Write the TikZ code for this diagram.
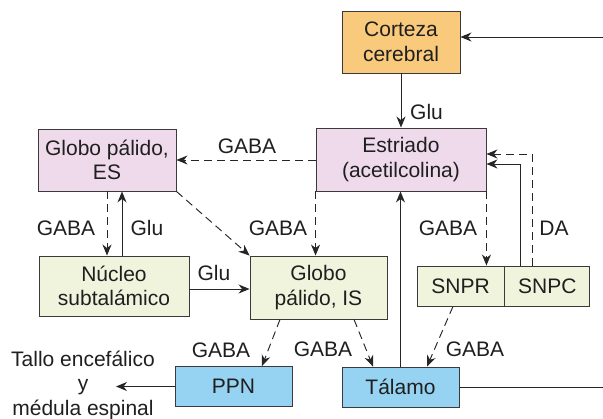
\documentclass[tikz,border=0pt]{standalone}
\usepackage{fontspec}
\setmainfont{Liberation Sans}
\usetikzlibrary{arrows.meta}
\definecolor{cortezacol}{HTML}{F9C97C}
\definecolor{pinkcol}{HTML}{EFDAEB}
\definecolor{greencol}{HTML}{F0F4DD}
\definecolor{bluecol}{HTML}{96D3F2}
\definecolor{edgecol}{HTML}{3A3A3A}
\begin{document}
\begin{tikzpicture}[x=1pt,y=-1pt,
  every node/.style={font=\fontsize{21}{24.5}\selectfont, text=black!88},
  box/.style={draw=edgecol, line width=0.9pt, inner sep=0pt, align=center},
  lbl/.style={inner sep=0pt},
  arr/.style={line width=0.95pt, draw=black!85, -{Stealth[length=11pt,width=9pt,inset=3.5pt]}},
  dsh/.style={arr, dash pattern=on 8pt off 5pt},
  plain/.style={line width=0.95pt, draw=black!85}]
\useasboundingbox (0,0) rectangle (603,419);
% boxes
\node[box, fill=cortezacol, minimum width=118pt, minimum height=62pt] (corteza) at (401,42) {Corteza\\cerebral};
\node[box, fill=pinkcol, minimum width=170pt, minimum height=63pt] (estriado) at (401,159.5) {Estriado\\(acetilcolina)};
\node[box, fill=pinkcol, minimum width=138pt, minimum height=62pt] (gpe) at (107,160) {Globo pálido,\\ES};
\node[box, fill=greencol, minimum width=150pt, minimum height=60pt] (stn) at (114,286) {Núcleo\\subtalámico};
\node[box, fill=greencol, minimum width=137pt, minimum height=63pt] (gpi) at (318.5,287.5) {Globo\\pálido, IS};
\node[box, fill=greencol, minimum width=87pt, minimum height=40pt] (snpr) at (460.5,286) {SNPR};
\node[box, fill=greencol, minimum width=85pt, minimum height=40pt, anchor=west] (snpc) at (snpr.east) {SNPC};
\node[box, fill=bluecol, minimum width=117pt, minimum height=40pt] (talamo) at (400.5,387) {Tálamo};
\node[box, fill=bluecol, minimum width=117pt, minimum height=40pt] (ppn) at (233.5,386.5) {PPN};
\node[lbl, align=center] (tallo) at (83,385) {Tallo encefálico\\y\\médula espinal};
% free ends
\coordinate (rtop) at (603,37);
\coordinate (rbot) at (603,387);
\coordinate (tallotip) at (116,386.5);
% connectors
\draw[arr] (corteza.south) -- (estriado.north);
\node[lbl, anchor=west] (l1) at (410,112) {Glu};
\draw[arr] (rtop) -- (rtop -| corteza.east);
\draw[plain] (talamo.east) -- (rbot);
\draw[dsh] (estriado.west |- 0,160) -- (gpe.east |- 0,160);
\node[lbl] (l2) at (247,146) {GABA};
\draw[dsh] (gpe.south -| 107,0) -- (stn.north -| 107,0);
\draw[arr] (stn.north -| 122,0) -- (gpe.south -| 122,0);
\node[lbl] (l3) at (66,228) {GABA};
\node[lbl] (l4) at (147,228) {Glu};
\draw[dsh] (gpe.south east) -- (gpi.north west);
\draw[arr] (stn.east |- 0,289) -- (gpi.west |- 0,289);
\node[lbl] (l5) at (214,273) {Glu};
\draw[dsh] (estriado.south west) -- (estriado.south west |- gpi.north);
\node[lbl] (l6) at (278,228) {GABA};
\draw[dsh] (estriado.south east) -- (estriado.south east |- snpr.north);
\node[lbl] (l7) at (448,228) {GABA};
\draw[arr] (snpc.north -| 520,0) -- (520,164) -- (estriado.east |- 0,164);
\draw[dsh] (snpc.north -| 532,0) -- (532,154) -- (estriado.east |- 0,154);
\node[lbl] (l8) at (554,228) {DA};
\draw[arr] (talamo.north) -- (talamo.north |- estriado.south);
\draw[dsh] (snpr.south -| 453,0) -- (talamo.north -| 427,0);
\node[lbl] (l9) at (475,349) {GABA};
\draw[dsh] (gpi.south -| 354,0) -- (talamo.north -| 373,0);
\node[lbl] (l10) at (323,349) {GABA};
\draw[dsh] (gpi.south -| 280,0) -- (ppn.north -| 262,0);
\node[lbl] (l11) at (221,350) {GABA};
\draw[arr] (ppn.west) -- (tallotip);
\end{tikzpicture}
\end{document}
